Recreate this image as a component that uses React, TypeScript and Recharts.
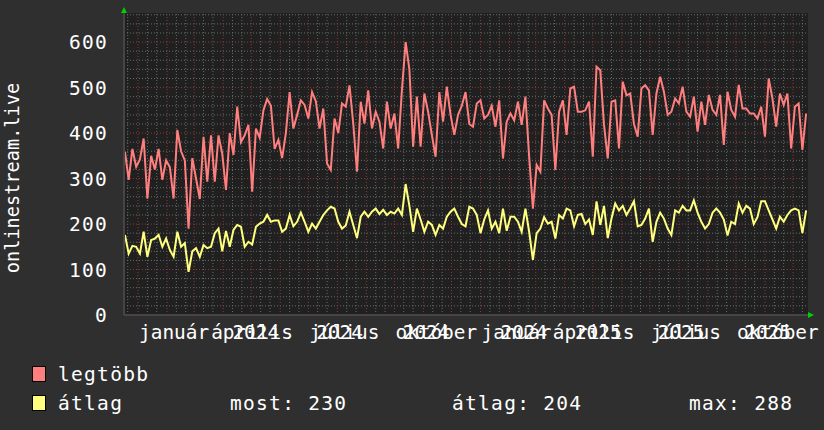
import { CartesianGrid, Line, LineChart, ReferenceLine, XAxis, YAxis } from "recharts";

// napi adatok, 4 naponta; 0. nap = 2024-01-01
const FIRST_DAY = -14;
const STEP_DAYS = 4;

const LEGTOBB = [
  359, 297, 365, 326, 342, 388, 256, 350, 320, 365, 297, 340, 325, 256, 407, 360, 340, 190, 345, 300,
  255, 392, 293, 395, 293, 395, 355, 275, 400, 352, 458, 380, 395, 418, 271, 410, 390, 450, 475, 460,
  365, 385, 345, 400, 490, 410, 440, 472, 462, 432, 490, 470, 410, 454, 333, 319, 432, 400, 465, 458,
  505, 421, 315, 469, 421, 494, 410, 447, 425, 366, 469, 410, 443, 366, 494, 600, 540, 370, 480, 370,
  487, 447, 396, 348, 490, 425, 502, 440, 396, 440, 460, 490, 420, 414, 465, 472, 432, 440, 460, 414,
  472, 344, 425, 443, 428, 469, 418, 480, 348, 234, 330, 315, 472, 454, 440, 319, 447, 472, 396, 498,
  502, 447, 447, 450, 469, 348, 546, 538, 418, 344, 469, 472, 366, 513, 483, 487, 420, 392, 498, 505,
  494, 396, 487, 524, 491, 440, 447, 476, 465, 502, 447, 436, 480, 403, 469, 418, 484, 451, 440, 484,
  374, 491, 451, 436, 506, 454, 454, 443, 443, 432, 458, 392, 520, 476, 414, 487, 462, 487, 366, 458,
  465, 363, 443,
];

const ATLAG = [
  176, 135, 152, 150, 135, 183, 128, 165, 168, 176, 150, 168, 143, 128, 183, 150, 158, 95, 140, 147,
  128, 154, 147, 150, 180, 190, 140, 185, 150, 187, 198, 194, 150, 161, 155, 194, 201, 205, 220, 205,
  208, 208, 183, 190, 220, 195, 205, 225, 205, 183, 201, 190, 205, 220, 230, 238, 234, 205, 190, 197,
  227, 198, 169, 216, 227, 216, 227, 234, 222, 231, 220, 227, 223, 234, 220, 288, 240, 183, 234, 210,
  183, 205, 198, 176, 198, 190, 216, 227, 234, 216, 200, 195, 238, 234, 220, 180, 210, 230, 190, 205,
  180, 234, 185, 216, 216, 205, 183, 234, 183, 121, 180, 190, 215, 201, 205, 168, 220, 212, 234, 230,
  195, 220, 222, 200, 210, 176, 250, 198, 240, 169, 212, 245, 230, 240, 220, 234, 250, 195, 198, 212,
  234, 161, 205, 225, 212, 190, 176, 230, 225, 240, 230, 230, 252, 225, 205, 190, 200, 225, 234, 225,
  210, 175, 205, 200, 245, 225, 240, 234, 200, 215, 250, 250, 230, 210, 190, 216, 205, 220, 230, 234,
  230, 180, 230,
];

// hónapok kezdőnapjai (2024-01-01-től számolva)
const MONTH_STARTS = [0, 31, 60, 91, 121, 152, 182, 213, 244, 274, 305, 335, 366, 397, 425, 456, 486, 517, 547, 578, 609, 639, 670, 700];
const QUARTER_DAYS = [0, 91, 182, 274, 366, 456, 547, 639];
const QUARTER_MONTHS = ["január", "április", "július", "október", "január", "április", "július", "október"];
const QUARTER_YEARS = ["2024", "2024", "2024", "2024", "2025", "2025", "2025", "2025"];
const Y_TICKS = [0, 100, 200, 300, 400, 500, 600];

const data = LEGTOBB.map((v, i) => ({ day: FIRST_DAY + i * STEP_DAYS, legtobb: v, atlag: ATLAG[i] }));

const minorY: number[] = [];
for (let v = 20; v <= 660; v += 20) if (v % 100 !== 0) minorY.push(v);
const minorX: number[] = [];
[-31, ...MONTH_STARTS].forEach((m) => { minorX.push(m + 10, m + 20); });

const FONT = "'DejaVu Sans Mono', monospace";
const RED = "#ff7f7f";
const YELLOW = "#ffff7f";
const NB = "\u00a0\u00a0";
// az eredeti rrdtool képen az "április" felirat kicsit balra csúszik
const LABEL_NUDGE: Record<string, number> = { "április": -13 };

function XTick({ x, payload }: any) {
  const i = QUARTER_DAYS.indexOf(payload.value);
  const m = QUARTER_MONTHS[i];
  return (
    <text x={x + 1 + (LABEL_NUDGE[m] || 0)} y={339} fill="#fff" fontSize={19.4} fontFamily={FONT}>
      {m + NB + QUARTER_YEARS[i]}
    </text>
  );
}

function YTick({ y, payload }: any) {
  return (
    <text x={108} y={y + 7} textAnchor="end" fill="#fff" fontSize={19.5} letterSpacing={1.3} fontFamily={FONT}>
      {payload.value}
    </text>
  );
}

const legendText = { fill: "#fff", fontSize: 19.5, letterSpacing: 1.3, fontFamily: FONT };

export default function App() {
  return (
    <div style={{ position: "absolute", left: 0, top: 0, width: 824, height: 430, background: "#2f2f2f", overflow: "hidden" }}>
      <LineChart width={824} height={430} data={data} margin={{ top: 13, right: 16, bottom: 0, left: 0 }}>
        <CartesianGrid fill="#202020" horizontal={false} vertical={false} stroke="none" />
        <XAxis dataKey="day" type="number" domain={[-15, 716]} ticks={QUARTER_DAYS} allowDataOverflow
          height={115} tick={<XTick />} tickLine={false} axisLine={{ stroke: "#454545", strokeWidth: 2 }} interval={0} />
        <YAxis type="number" domain={[0, 664]} ticks={Y_TICKS} width={124} allowDataOverflow
          tick={<YTick />} tickLine={false} axisLine={{ stroke: "#454545", strokeWidth: 2 }} interval={0} />
        {minorY.map((v) => <ReferenceLine key={"hy" + v} y={v} stroke="#6a6a6a" strokeDasharray="1 2" />)}
        {minorX.filter((d) => d > -15 && d < 716).map((d) => <ReferenceLine key={"vx" + d} x={d} stroke="#6a6a6a" strokeDasharray="1 2" />)}
        {Y_TICKS.slice(1).map((v) => <ReferenceLine key={"my" + v} y={v} stroke="#8a3a3a" strokeDasharray="1 2" />)}
        {MONTH_STARTS.map((d) => <ReferenceLine key={"mx" + d} x={d} stroke="#8a3a3a" strokeDasharray="1 2" />)}
        <Line dataKey="legtobb" stroke={RED} strokeWidth={2} dot={false} activeDot={false} isAnimationActive={false} type="linear" />
        <Line dataKey="atlag" stroke={YELLOW} strokeWidth={2} dot={false} activeDot={false} isAnimationActive={false} type="linear" />
      </LineChart>
      <svg width={824} height={430} style={{ position: "absolute", left: 0, top: 0, pointerEvents: "none" }}>
        <polygon points="121,13 127,13 124,7" fill="#00d000" />
        <polygon points="808,312 808,318 814,315" fill="#00d000" />
        <text transform="translate(19,178) rotate(-90)" textAnchor="middle" fill="#fff" fontSize={18.6} fontFamily={FONT}>onlinestream.live</text>
        <rect x={32.5} y={366.5} width={13} height={15} fill={RED} stroke="#000" />
        <text x={58} y={381} {...legendText}>legtöbb</text>
        <rect x={32.5} y={395.5} width={13} height={15} fill={YELLOW} stroke="#000" />
        <text x={58} y={410} {...legendText}>átlag</text>
        <text x={230} y={410} {...legendText}>most: 230</text>
        <text x={452} y={410} {...legendText}>átlag: 204</text>
        <text x={689} y={410} {...legendText}>max: 288</text>
      </svg>
    </div>
  );
}
